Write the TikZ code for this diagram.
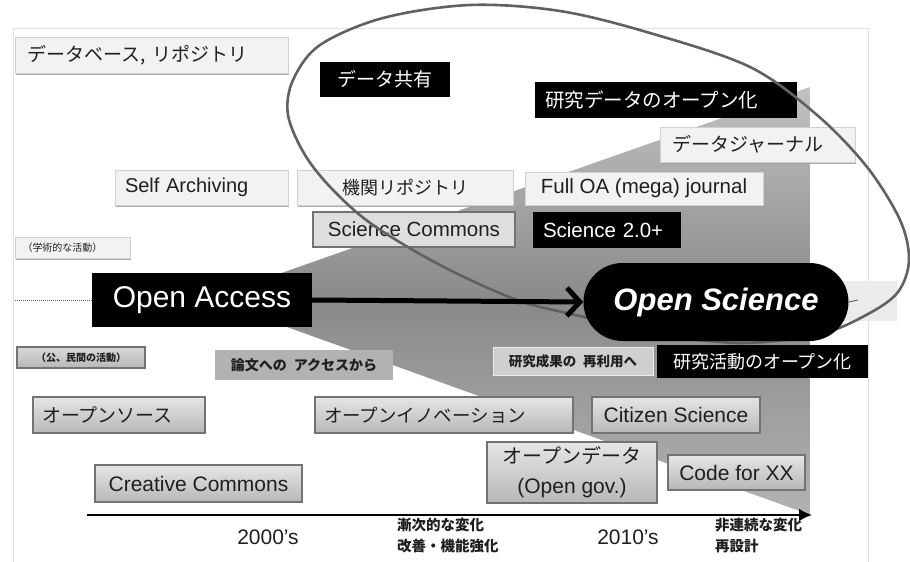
\documentclass[tikz,border=0pt]{standalone}
\usepackage{fontspec}
\setmainfont{Liberation Sans}
\newfontfamily\jp{Noto Sans CJK JP}
\usetikzlibrary{arrows.meta,shadows,shapes.misc}
\newcommand\fsz[2]{\fontsize{#1}{#2}\selectfont}
\begin{document}
\begin{tikzpicture}[x=1pt,y=-1pt,
  every node/.style={inner sep=0pt, text=black!88},
  lite/.style={fill=black!5, draw=black!18, line width=0.6pt,
    drop shadow={shadow xshift=0.8pt, shadow yshift=-2.2pt, fill=black!40, opacity=0.8}},
  dark/.style={fill=black, draw=none, text=white},
  mid/.style={fill=black!13, draw=black!55, line width=1.3pt},
  low/.style={top color=black!10, bottom color=black!28, draw=black!55, line width=1.3pt},
  pill/.style={rounded rectangle, fill=black, draw=none, text=white},
  greylab/.style={fill=black!30, draw=none},
  greylab2/.style={fill=black!19, draw=black!8, line width=0.8pt},
  kominbox/.style={top color=black!15, bottom color=black!28, draw=black!55, line width=1.2pt},
  jpf/.style={font=\jp\fsz{#1}{#1+3}},
]
\fill[white] (0,0) rectangle (910,562);
\useasboundingbox (0,0) rectangle (910,562);
% faint slide frame
\draw[black!12, line width=0.8pt] (13,562) -- (13,28) -- (868,28) -- (868,562);
\fill[black!8] (840,281) rectangle (897,321);
% grey wedge
\shade[top color=black!24, bottom color=black!30, middle color=black!46]
  (273,276) -- (810,87) -- (810,515) -- (273,322) -- cycle;
\draw[white, line width=2.2pt] (273,324) -- (810,516);

% top row
\node[lite, minimum width=273pt, minimum height=36pt, text width=248pt, align=left, font=\jp\fsz{19}{22}] (db) at (151.5,55) {データベース, リポジトリ};
\node[dark, minimum width=130pt, minimum height=35pt, font=\jp\fsz{19}{22}] (share) at (385,79.5) {データ共有};
\node[dark, minimum width=262pt, minimum height=36pt, text width=242pt, align=left, font=\jp\fsz{19.5}{22}] (rdopen) at (666,100) {研究データのオープン化};
\node[lite, minimum width=195pt, minimum height=35pt, text width=171pt, align=left, font=\jp\fsz{19}{22}] (djn) at (757.5,144.5) {データジャーナル};
\node[lite, minimum width=173pt, minimum height=35pt, text width=153pt, align=left, font=\fsz{20}{24}] (self) at (201.5,187.5) {Self Archiving};
\node[lite, minimum width=216pt, minimum height=35pt, font=\jp\fsz{18}{22}] (kikan) at (405,187.5) {機関リポジトリ};
\node[lite, minimum width=238pt, minimum height=33pt, font=\fsz{20.5}{24}] (fulloa) at (644,188.5) {Full OA (mega) journal};
\node[mid, minimum width=202pt, minimum height=35pt, font=\fsz{20.5}{24}] (scicom) at (414,229.5) {Science Commons};
\node[dark, minimum width=148pt, minimum height=36pt, text width=128pt, align=left, font=\fsz{20.5}{24}] (sci20) at (607,230) {Science 2.0+};
\node[lite, minimum width=115pt, minimum height=21pt, text width=100pt, align=left, font=\jp\fsz{10}{12}] (gaku) at (72.5,247.5) {（学術的な活動）};

% middle row
\node[dark, minimum width=220pt, minimum height=54pt, font=\fsz{30}{34}] (oa) at (202,300) {Open Access};

% lower part
\node[kominbox, minimum width=128pt, minimum height=21pt, font=\jp\bfseries\fsz{10}{12}] (komin) at (81,357.5) {（公、民間の活動）};
\node[greylab, minimum width=178pt, minimum height=30pt, font=\jp\bfseries\fsz{14}{16}] (ronbun) at (304,365) {論文への\enspace アクセスから};
\node[greylab2, minimum width=160pt, minimum height=28pt, font=\jp\bfseries\fsz{13.5}{16}] (seika) at (573,361) {研究成果の\enspace 再利用へ};
\node[dark, minimum width=211pt, minimum height=33pt, font=\jp\fsz{18}{22}] (katsudo) at (762.5,361.5) {研究活動のオープン化};
\node[low, minimum width=172pt, minimum height=36pt, text width=154pt, align=left, font=\jp\fsz{19}{22}] (osrc) at (119,415) {オープンソース};
\node[low, minimum width=258pt, minimum height=36pt, text width=240pt, align=left, font=\jp\fsz{18.5}{22}] (oinno) at (444,415) {オープンイノベーション};
\node[low, minimum width=168pt, minimum height=36pt, font=\fsz{21}{24}] (citizen) at (676,415) {Citizen Science};
\node[low, minimum width=170pt, minimum height=61pt, align=center, font=\fsz{21}{30}] (odata) at (572,472.5) {{\jp\fsz{20}{30}オープンデータ}\\(Open gov.)};
\node[low, minimum width=137pt, minimum height=35pt, font=\fsz{21}{24}] (code) at (736.5,472.5) {Code for XX};
\node[low, minimum width=207pt, minimum height=37pt, font=\fsz{21}{24}] (cc) at (198.5,483.5) {Creative Commons};

% hand-drawn ellipse
\draw[black!62, line width=2.6pt] plot[smooth cycle, tension=0.55] coordinates {
  (470,5) (560,11) (650,33) (750,67) (817,115) (867,167) (900,220) (909,260)
  (898,292) (868,314) (820,334) (740,343) (650,333) (580,316) (517,300)
  (440,265) (373,225) (333,190) (305,155) (288,115) (293,80) (320,45) (383,18)};

% Open Science
\node[pill, minimum width=265pt, minimum height=78pt, font=\bfseries\itshape\fsz{31}{34}] (os) at (716,302) {Open Science};

% connectors
\coordinate (dl) at (15,300);
\coordinate (dr) at (858,300);
\draw[black!60, densely dotted, line width=1pt] (dl) -- (oa.west);
\draw[black!60, line width=1pt] (os.east) -- (dr);
\draw[line width=5pt, -{Straight Barb[length=13pt, width=28pt]}] (oa.east) -- (os.west);

% axis
\coordinate (ax0) at (87,515);
\coordinate (ax1) at (812,515);
\draw[line width=2.5pt, -{Latex[length=13pt, width=13pt]}] (ax0) -- (ax1);
\node[font=\fsz{21}{24}] (y2000) at (268,537) {2000's};
\node[font=\fsz{21}{24}] (y2010) at (628,537) {2010's};
\node[align=left, anchor=north west, font=\jp\bfseries\fsz{14.5}{21}] (zenji) at (397,518) {漸次的な変化\\改善・機能強化};
\node[align=left, anchor=north west, font=\jp\bfseries\fsz{14.5}{21}] (hiren) at (715,518) {非連続な変化\\再設計};
\end{tikzpicture}
\end{document}
